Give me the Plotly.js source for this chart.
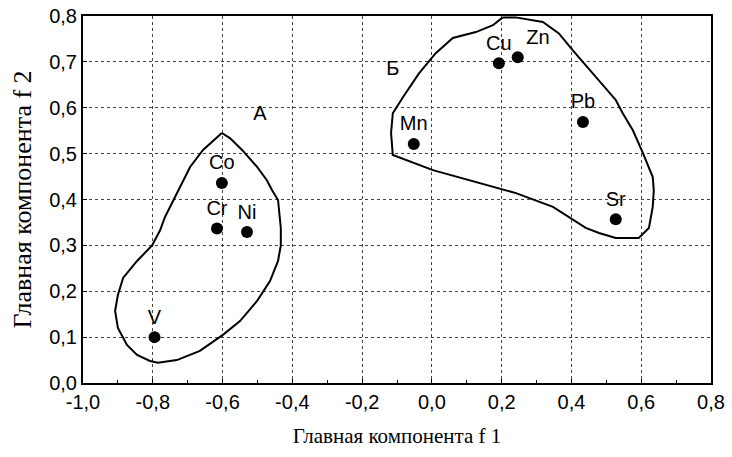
<!DOCTYPE html>
<html><head><meta charset="utf-8">
<script src="https://cdn.plot.ly/plotly-3.0.1.min.js"></script>
<style>body{margin:0;background:#fff}#c{width:732px;height:457px}</style>
</head><body><div id="c"></div>
<script>
const elements = ["V","Co","Cr","Ni","Mn","Cu","Zn","Pb","Sr"];
const f1 = [-0.795,-0.602,-0.616,-0.530,-0.052,0.192,0.246,0.433,0.527];
const f2 = [0.100,0.436,0.337,0.329,0.521,0.697,0.710,0.569,0.357];
const labelPos = ["top center","top center","top center","top center","top center","top center","top right","top center","top center"];

const hullAx = [-0.602,-0.656,-0.693,-0.716,-0.742,-0.765,-0.779,-0.802,-0.845,-0.885,-0.900,-0.908,-0.900,-0.874,-0.845,-0.808,-0.785,-0.731,-0.665,-0.599,-0.550,-0.501,-0.464,-0.441,-0.433,-0.433,-0.441,-0.458,-0.473,-0.501,-0.544,-0.579,-0.602];
const hullAy = [0.545,0.508,0.471,0.436,0.399,0.362,0.333,0.300,0.266,0.229,0.192,0.157,0.120,0.083,0.061,0.048,0.044,0.050,0.070,0.105,0.135,0.179,0.222,0.266,0.300,0.338,0.399,0.420,0.442,0.471,0.508,0.534,0.545];

const hullBx = [0.203,0.240,0.318,0.364,0.404,0.479,0.527,0.547,0.576,0.605,0.633,0.636,0.633,0.622,0.593,0.527,0.479,0.441,0.347,0.241,0.126,0.003,-0.112,-0.117,-0.112,-0.083,-0.037,0.011,0.060,0.126,0.175,0.203];
const hullBy = [0.797,0.797,0.787,0.762,0.725,0.660,0.617,0.588,0.551,0.501,0.449,0.420,0.384,0.338,0.316,0.316,0.327,0.338,0.384,0.414,0.438,0.464,0.497,0.545,0.588,0.623,0.675,0.719,0.752,0.765,0.780,0.797];

const groupNames = ["A","Б"];
const groupX = [-0.493,-0.112];
const groupY = [0.584,0.682];

const xTicks = [-1.0,-0.8,-0.6,-0.4,-0.2,0.0,0.2,0.4,0.6,0.8];
const xTickText = ["-1,0","-0,8","-0,6","-0,4","-0,2","0,0","0,2","0,4","0,6","0,8"];
const yTicks = [0.0,0.1,0.2,0.3,0.4,0.5,0.6,0.7,0.8];
const yTickText = ["0,0","0,1","0,2","0,3","0,4","0,5","0,6","0,7","0,8"];

const sans = "Arial, Liberation Sans";
const serif = "Times New Roman, Liberation Serif";

const traces = [
 {x:hullAx,y:hullAy,mode:"lines",line:{color:"#000",width:2},hoverinfo:"skip"},
 {x:hullBx,y:hullBy,mode:"lines",line:{color:"#000",width:2},hoverinfo:"skip"},
 {x:f1,y:f2,mode:"markers+text",text:elements,textposition:labelPos,
  marker:{color:"#000",size:12},textfont:{family:sans,size:20,color:"#000"}},
 {x:groupX,y:groupY,mode:"text",text:groupNames,textfont:{family:sans,size:20,color:"#000"}}
];

const axisCommon = {
  showline:true,linecolor:"#000",linewidth:2,mirror:true,
  showgrid:true,gridcolor:"#444",griddash:"dot",gridwidth:1,
  zeroline:false,ticks:"inside",ticklen:4,tickcolor:"#000",
  tickfont:{family:sans,size:20,color:"#000"}
};

const layout = {
  width:732,height:457,
  margin:{l:83,r:21,t:16,b:74},
  paper_bgcolor:"#fff",plot_bgcolor:"#fff",
  showlegend:false,
  xaxis:Object.assign({},axisCommon,{range:[-1.0,0.8],tickmode:"array",tickvals:xTicks,ticktext:xTickText,
    minor:{ticks:"inside",ticklen:3,tickcolor:"#000",dtick:0.1,showgrid:false},
    title:{text:"Главная компонента f 1",font:{family:serif,size:21,color:"#000"},standoff:16}}),
  yaxis:Object.assign({},axisCommon,{range:[0,0.8],tickmode:"array",tickvals:yTicks,ticktext:yTickText,
    title:{text:"Главная компонента f 2",font:{family:serif,size:26,color:"#000"},standoff:10}})
};

Plotly.newPlot("c",traces,layout,{staticPlot:true});
</script>
</body></html>
